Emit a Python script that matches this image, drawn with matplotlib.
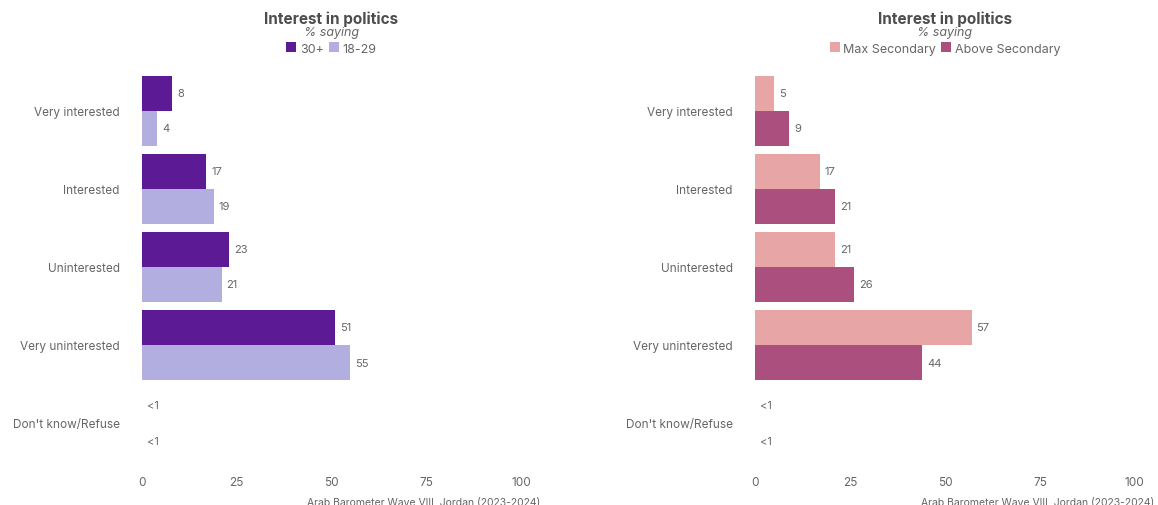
import matplotlib.pyplot as plt
import numpy as np

categories = ['Very interested', 'Interested', 'Uninterested', 'Very uninterested', "Don't know/Refuse"]

# age groups (don't know share rounds to 0, labelled "<1")
age_older = [8, 17, 23, 51, 0]
age_younger = [4, 19, 21, 55, 0]
age_labels = ['8', '17', '23', '51', '<1']
age_labels_y = ['4', '19', '21', '55', '<1']

# education groups
edu_max_sec = [5, 17, 21, 57, 0]
edu_above_sec = [9, 21, 26, 44, 0]
edu_labels_max = ['5', '17', '21', '57', '<1']
edu_labels_above = ['9', '21', '26', '44', '<1']

ticks = [0, 25, 50, 75, 100]

plt.rcParams['font.family'] = ['Inter', 'DejaVu Sans']
text_col = '#666666'
title_col = '#4d4d4d'


def draw_panel(ax, v1, v2, l1, l2, c1, c2, names):
    y = np.arange(len(categories))
    h = 0.45
    b1 = ax.barh(y - h / 2, v1, height=h, color=c1, linewidth=0, label=names[0])
    b2 = ax.barh(y + h / 2, v2, height=h, color=c2, linewidth=0, label=names[1])
    for bars, labs in ((b1, l1), (b2, l2)):
        for bar, lab in zip(bars, labs):
            ax.annotate(lab, (bar.get_width(), bar.get_y() + bar.get_height() / 2),
                        xytext=(3.5, 0), textcoords='offset points', va='center', ha='left',
                        fontsize=8, color=text_col)
    ax.set_xlim(0, 100)
    ax.set_ylim(len(categories) - 0.5, -0.5)
    ax.set_xticks(ticks)
    ax.set_yticks(y)
    ax.set_yticklabels(categories)
    ax.tick_params(axis='both', length=0, labelsize=8.5, labelcolor=text_col)
    ax.tick_params(axis='y', pad=16)
    ax.tick_params(axis='x', pad=10)
    for s in ax.spines.values():
        s.set_visible(False)
    ax.text(0.5, 1.138, 'Interest in politics', transform=ax.transAxes, ha='center', va='center',
            fontsize=11, fontweight='bold', color=title_col)
    ax.text(0.5, 1.102, '% saying', transform=ax.transAxes, ha='center', va='center',
            fontsize=9, style='italic', color=text_col)
    ax.legend(loc='center', bbox_to_anchor=(0.5, 1.06), ncol=2, frameon=False, fontsize=9,
              handlelength=0.8, handleheight=0.8, handletextpad=0.3, columnspacing=0.4,
              labelcolor=text_col, borderpad=0)
    ax.text(1.05, -0.1, 'Arab Barometer Wave VIII, Jordan (2023-2024)', transform=ax.transAxes,
            ha='right', va='center', fontsize=7.5, color=text_col)


fig = plt.figure(figsize=(11.58, 5.06), dpi=100)
ax1 = fig.add_axes([0.1226, 0.085, 0.3273, 0.771])
ax2 = fig.add_axes([0.652, 0.085, 0.328, 0.771])

draw_panel(ax1, age_older, age_younger, age_labels, age_labels_y, '#5c1a94', '#b3aee0', ['30+', '18-29'])
draw_panel(ax2, edu_max_sec, edu_above_sec, edu_labels_max, edu_labels_above, '#e8a5a5', '#ab4f7e',
           ['Max Secondary', 'Above Secondary'])

fig.savefig('out.png', dpi=100)
